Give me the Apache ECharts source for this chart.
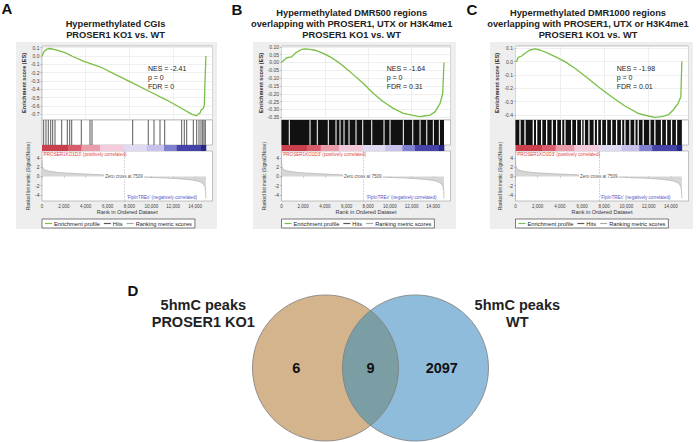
<!DOCTYPE html>
<html><head><meta charset="utf-8">
<script src="https://cdn.jsdelivr.net/npm/echarts@6/dist/echarts.min.js"></script>
<style>html,body{margin:0;padding:0;background:#fff}#c{width:698px;height:442px}</style>
</head><body><div id="c"></div>
<script>
// ===================== DATA =====================
const panelLetters = ['A', 'B', 'C'];
const panelTitles = [
  'Hypermethylated CGIs\nPROSER1 KO1 vs. WT',
  'Hypermethylated DMR500 regions\noverlapping with PROSER1, UTX or H3K4me1\nPROSER1 KO1 vs. WT',
  'Hypermethylated DMR1000 regions\noverlapping with PROSER1, UTX or H3K4me1\nPROSER1 KO1 vs. WT'
];
const nesValues = [-2.41, -1.64, -1.98];
const pValues = [0, 0, 0];
const fdrValues = [0, 0.31, 0.01];

const totalRanks = 15000;
const zeroCross = 7509;
const rankTickStep = 2000;

// enrichment score curves [rank, ES]
const esA = [[0,0],[180,0.05],[430,0.082],[730,0.09],[1350,0.07],[2100,0.04],[2720,0.0],[3780,-0.062],[5300,-0.13],[6830,-0.23],[8350,-0.33],[9880,-0.43],[11410,-0.53],[12630,-0.62],[13700,-0.70],[14150,-0.72],[14360,-0.69],[14450,-0.69],[14550,-0.65],[14760,-0.63],[14850,-0.59],[14900,-0.35],[15000,0]];
const esB = [[0,0],[320,0.02],[480,0.03],[940,0.036],[1250,0.058],[1560,0.072],[1860,0.083],[2170,0.087],[2630,0.083],[3090,0.078],[3860,0.058],[4480,0.036],[5400,-0.006],[6330,-0.06],[7560,-0.134],[8480,-0.198],[9400,-0.251],[10320,-0.293],[11250,-0.325],[12020,-0.336],[12790,-0.345],[13250,-0.34],[13710,-0.336],[14170,-0.315],[14640,-0.261],[14880,-0.198],[15000,0]];
const esC = [[0,0],[100,0.002],[255,0.032],[556,0.042],[856,0.062],[1306,0.087],[1757,0.095],[2207,0.087],[2958,0.062],[3709,0.032],[4459,0.0],[5360,-0.05],[6261,-0.108],[7462,-0.188],[8664,-0.263],[9865,-0.333],[11066,-0.388],[11967,-0.408],[12568,-0.418],[13168,-0.413],[13769,-0.4],[14219,-0.363],[14670,-0.313],[14910,-0.263],[15000,0]];

// ES axis tick labels
const esTicksA = [-0.7,-0.6,-0.5,-0.4,-0.3,-0.2,-0.1,0,0.1];
const esTicksB = [-0.35,-0.30,-0.25,-0.20,-0.15,-0.10,-0.05,0,0.05,0.10];
const esTicksC = [-0.4,-0.3,-0.2,-0.1,0,0.1];
const esRangeA = [-0.77, 0.12];
const esRangeB = [-0.367, 0.105];
const esRangeC = [-0.438, 0.117];

// hits: A single positions; B and C dense, given as gaps (ranks with no hit)
const hitsA = [155,366,576,796,979,1190,1802,2315,2534,2717,3596,4392,4575,8298,9725,10247,10796,11226,12781,13019,13239,13843,14154,14364,14547,14703,14822,14941];
const hitGapsB = [720,2632,3306,4321,5032,5402,5771,6233,6879,7498,8329,9464,10018,11247,12115,12789,13408,14017,14571];
const hitGapsC = [405,856,1607,1907,2358,2808,3318,3709,4159,4459,5060,5511,5961,6201,6622,7102,7402,7763,8213,8664,9114,9565,9865,10315,10766,11066,11517,12117,12568,13168,13619,14069,14520];

// ranked list colour bar: segment edges (rank) and level index
const colorBarEdges = [0,2400,3620,5310,7500,9580,11160,12320,14500,15000];
const colorBarLevels = [0,1,2,3,4,5,6,7,8];

// ranked list metric (Signal2Noise)
const rankedMetric = [[0,3.4],[30,2.3],[100,1.7],[300,1.35],[700,1.1],[1500,0.85],[2500,0.68],[3500,0.56],[4500,0.45],[5500,0.33],[6500,0.18],[7509,0],[8500,-0.1],[9500,-0.18],[10500,-0.27],[11500,-0.37],[12500,-0.5],[13300,-0.65],[13900,-0.85],[14300,-1.05],[14600,-1.35],[14800,-1.75],[14920,-2.3],[14975,-3.2],[15000,-4.7]];
const metricTicks = [-4,-2,0,2,4];
const metricRange = [-5.28, 5.45];

// Venn
const vennSetNames = ['5hmC peaks\nPROSER1 KO1', '5hmC peaks\nWT'];
const vennCounts = [6, 9, 2097]; // only KO1, shared, only WT

// ===================== STYLE / LAYOUT =====================
const FONT = '"Liberation Sans", Arial, Helvetica, sans-serif';
const esColor = '#79bf45';
const colorBarPalette = ['#c9404c','#d95c6c','#eb9cab','#f4cadc','#e0dbf2','#c7c1ec','#8080d0','#4444a8','#262684'];
const layout = [
  {L:42, W:170.5, bg:[16,42,201,187], esGap:14, rkGap:10, titleX:115.5, letterX:1.5, letterY:0.5, nesX:148, hitColor:'#5a5a5a'},
  {L:281.5, W:169, bg:[253,42,203,187], esGap:17, rkGap:15, titleX:351.7, letterX:231.5, letterY:1.5, nesX:386.7, hitColor:'#111'},
  {L:515.5, W:173, bg:[490,42,203,187], esGap:13, rkGap:13, titleX:588, letterX:466.5, letterY:1.8, nesX:616.7, hitColor:'#111'}
];
const ES_TOP = 46, ES_H = 74, HIT_TOP = 120, HIT_H = 25, CB_TOP = 145, CB_H = 6, RK_TOP = 151, RK_H = 50;
const X_MAX = 15600;

const esData = [esA, esB, esC];
const esTicks = [esTicksA, esTicksB, esTicksC];
const esRanges = [esRangeA, esRangeB, esRangeC];
const esDec = [1, 2, 1];

function blocksFromGaps(gaps, w) {
  const out = []; let s = 0;
  gaps.forEach(g => { out.push([s, g - w / 2]); s = g + w / 2; });
  out.push([s, totalRanks]);
  return out;
}
const hitData = [hitsA.map(r => [r, r]), blocksFromGaps(hitGapsB, 95), blocksFromGaps(hitGapsC, 115)];
const colorBarData = colorBarLevels.map((lv, i) => [colorBarEdges[i], colorBarEdges[i + 1], lv]);

function renderHits(params, api) {
  const a = api.coord([api.value(0), 1]);
  const b = api.coord([api.value(1), 0]);
  let x = a[0], w = b[0] - a[0];
  if (w < 1) { x = (a[0] + b[0]) / 2 - 0.5; w = 1; }
  return {type: 'rect', shape: {x: x, y: a[1], width: w, height: b[1] - a[1]}, style: {fill: api.visual('color')}};
}
function renderColorBar(params, api) {
  const a = api.coord([api.value(0), 1]);
  const b = api.coord([api.value(1), 0]);
  return {type: 'rect', shape: {x: a[0], y: a[1], width: b[0] - a[0] + 0.3, height: b[1] - a[1]}, style: {fill: colorBarPalette[api.value(2)]}};
}

const grid = [], xAxis = [], yAxis = [], series = [], legend = [], graphic = [];
const fmtRank = v => v === 0 ? '0' : v.toLocaleString('en-US');

layout.forEach((p, i) => {
  const g0 = grid.length;
  const gb = {show: true, backgroundColor: '#fff', borderColor: '#9a9a9a', borderWidth: 0.6};
  grid.push(Object.assign({left: p.L, top: ES_TOP, width: p.W, height: ES_H}, gb));
  grid.push(Object.assign({left: p.L, top: HIT_TOP, width: p.W, height: HIT_H}, gb));
  grid.push({left: p.L, top: CB_TOP, width: p.W, height: CB_H, show: false});
  grid.push(Object.assign({left: p.L, top: RK_TOP, width: p.W, height: RK_H}, gb));

  const hiddenX = idx => ({type: 'value', gridIndex: idx, min: 0, max: X_MAX, show: false});
  xAxis.push({type: 'value', gridIndex: g0, min: 0, max: X_MAX, interval: 4000,
    axisLine: {show: false}, axisTick: {show: false}, axisLabel: {show: false},
    splitLine: {show: true, lineStyle: {color: '#e4e4e4', width: 0.6}}});
  xAxis.push(hiddenX(g0 + 1));
  xAxis.push(hiddenX(g0 + 2));
  xAxis.push({type: 'value', gridIndex: g0 + 3, min: 0, max: X_MAX, interval: rankTickStep,
    name: 'Rank in Ordered Dataset', nameLocation: 'middle', nameGap: 6,
    nameTextStyle: {fontSize: 5.5, color: '#333', fontFamily: FONT},
    axisLine: {show: false}, axisTick: {show: true, length: 1.5, lineStyle: {color: '#888', width: 0.5}},
    axisLabel: {fontSize: 4.5, color: '#444', margin: 2.5, fontFamily: FONT, showMaxLabel: false, formatter: fmtRank},
    splitLine: {show: false}});

  const dec = esDec[i];
  yAxis.push({type: 'value', gridIndex: g0, min: esRanges[i][0], max: esRanges[i][1],
    name: 'Enrichment score (ES)', nameLocation: 'middle', nameGap: p.esGap,
    nameTextStyle: {fontSize: 5.6, fontWeight: 'bold', color: '#333', fontFamily: FONT},
    axisLine: {show: false},
    axisTick: {show: true, length: 1.5, customValues: esTicks[i], lineStyle: {color: '#888', width: 0.5}},
    axisLabel: {fontSize: 5, color: '#444', margin: 2.5, fontFamily: FONT, customValues: esTicks[i], formatter: v => v.toFixed(dec)},
    splitLine: {show: true, lineStyle: {color: '#e4e4e4', width: 0.6}}});
  yAxis.push({type: 'value', gridIndex: g0 + 1, min: 0, max: 1, show: false});
  yAxis.push({type: 'value', gridIndex: g0 + 2, min: 0, max: 1, show: false});
  yAxis.push({type: 'value', gridIndex: g0 + 3, min: metricRange[0], max: metricRange[1],
    name: 'Ranked list metric (Signal2Noise)', nameLocation: 'middle', nameGap: p.rkGap,
    nameTextStyle: {fontSize: 4.6, color: '#333', fontFamily: FONT},
    axisLine: {show: false},
    axisTick: {show: true, length: 1.5, customValues: metricTicks, lineStyle: {color: '#888', width: 0.5}},
    axisLabel: {fontSize: 5, color: '#444', margin: 2.5, fontFamily: FONT, customValues: metricTicks},
    splitLine: {show: false}});

  series.push({name: 'Enrichment profile', type: 'line', xAxisIndex: g0, yAxisIndex: g0, data: esData[i],
    showSymbol: false, symbol: 'none', itemStyle: {color: esColor}, lineStyle: {color: esColor, width: 1.3}, z: 5});
  series.push({name: 'Hits', type: 'custom', xAxisIndex: g0 + 1, yAxisIndex: g0 + 1, data: hitData[i],
    encode: {x: [0, 1]}, itemStyle: {color: p.hitColor}, renderItem: renderHits});
  series.push({name: 'colorbar' + i, type: 'custom', xAxisIndex: g0 + 2, yAxisIndex: g0 + 2, data: colorBarData,
    encode: {x: [0, 1]}, renderItem: renderColorBar});
  series.push({name: 'Ranking metric scores', type: 'line', xAxisIndex: g0 + 3, yAxisIndex: g0 + 3, data: rankedMetric,
    showSymbol: false, symbol: 'none', itemStyle: {color: '#a8a8a8'}, lineStyle: {color: '#a8a8a8', width: 0.6},
    areaStyle: {color: '#c4c4c4'},
    markLine: {silent: true, symbol: 'none', label: {show: false}, lineStyle: {color: '#aaa', type: 'dashed', width: 0.5}, data: [{xAxis: zeroCross}]},
    markPoint: {silent: true, symbol: 'rect', symbolSize: 0.1, itemStyle: {color: 'rgba(0,0,0,0)'},
      label: {show: true, position: 'inside', formatter: 'Zero cross at ' + zeroCross, fontSize: 4.5, color: '#555', fontFamily: FONT, backgroundColor: '#fff', padding: [0, 1]},
      data: [{coord: [zeroCross, 0]}]}});

  legend.push({left: p.L, top: 219, orient: 'horizontal', selectedMode: false,
    data: ['Enrichment profile', 'Hits', 'Ranking metric scores'],
    icon: 'rect', itemWidth: 7, itemHeight: 1.2, itemGap: 4,
    textStyle: {fontSize: 5.7, color: '#222', fontFamily: FONT, padding: [0, 0, 0, -3]},
    padding: [1.5, 3], borderColor: '#444', borderWidth: 0.7, backgroundColor: '#fff'});

  // gray panel background
  graphic.push({type: 'rect', z: -10, shape: {x: p.bg[0], y: p.bg[1], width: p.bg[2], height: p.bg[3]}, style: {fill: '#eeeeee'}});
  // letter
  graphic.push({type: 'text', z: 100, x: p.letterX, y: p.letterY, style: {text: panelLetters[i], fill: '#111',
    font: 'bold 15px ' + FONT, textAlign: 'left', textVerticalAlign: 'top', align: 'left', verticalAlign: 'top'}});
  // title
  graphic.push({type: 'text', z: 100, x: p.titleX, y: 40.2, style: {text: panelTitles[i], fill: '#222',
    font: 'bold 9.3px ' + FONT, lineHeight: 10.7, textAlign: 'center', textVerticalAlign: 'bottom', align: 'center', verticalAlign: 'bottom'}});
  // stats
  const stats = ['NES = ' + nesValues[i].toFixed(2), 'p = ' + pValues[i], 'FDR = ' + fdrValues[i]].join('\n');
  graphic.push({type: 'text', z: 100, x: p.nesX, y: 64, style: {text: stats, fill: '#222',
    font: '7px ' + FONT, lineHeight: 8.8, textAlign: 'left', textVerticalAlign: 'top', align: 'left', verticalAlign: 'top'}});
  // correlation labels
  graphic.push({type: 'text', z: 100, x: p.L + 0.8, y: 154, style: {text: "'PROSER1KO1D3' (positively correlated)", fill: '#e04646',
    font: '4.6px ' + FONT, textAlign: 'left', textVerticalAlign: 'middle', align: 'left', verticalAlign: 'middle'}});
  graphic.push({type: 'text', z: 100, x: p.L + 155, y: 197.7, style: {text: "'FlpInTREx' (negatively correlated)", fill: '#5656c8',
    font: '4.6px ' + FONT, textAlign: 'right', textVerticalAlign: 'middle', align: 'right', verticalAlign: 'middle'}});
});

// ---- Venn (panel D) ----
const vennGridIdx = grid.length;
const vennHalfDist = 0.616; // half distance between circle centres, in radius units
grid.push({left: 252.5, top: 295, width: 236, height: 146, show: false});
xAxis.push({type: 'value', gridIndex: vennGridIdx, min: -1 - vennHalfDist, max: 1 + vennHalfDist, show: false});
yAxis.push({type: 'value', gridIndex: vennGridIdx, min: -1, max: 1, show: false});
series.push({name: 'venn', type: 'custom', xAxisIndex: vennGridIdx, yAxisIndex: vennGridIdx,
  data: [[vennCounts[0], vennCounts[1], vennCounts[2]]],
  renderItem: function (params, api) {
    const d = vennHalfDist;
    const cL = api.coord([-d, 0]), cR = api.coord([d, 0]);
    const r = api.size([1, 1])[0];
    const alpha = Math.acos(d);
    const pts = [];
    const n = 60;
    for (let k = 0; k <= n; k++) { const t = -alpha + 2 * alpha * k / n; pts.push(api.coord([-d + Math.cos(t), Math.sin(t)])); }
    for (let k = 0; k <= n; k++) { const t = Math.PI - alpha + 2 * alpha * k / n; pts.push(api.coord([d + Math.cos(t), Math.sin(t)])); }
    const numFont = 'bold 14.5px ' + FONT;
    const txt = (v, x) => { const c = api.coord([x, 0]); return {type: 'text', x: c[0], y: c[1], style: {text: String(v), fill: '#111', font: numFont, textAlign: 'center', textVerticalAlign: 'middle', align: 'center', verticalAlign: 'middle'}}; };
    return {type: 'group', children: [
      {type: 'circle', shape: {cx: cL[0], cy: cL[1], r: r}, style: {fill: '#d4b48d'}},
      {type: 'circle', shape: {cx: cR[0], cy: cR[1], r: r}, style: {fill: '#90bcdc'}},
      {type: 'polygon', shape: {points: pts}, style: {fill: '#7b9ea4'}},
      {type: 'circle', shape: {cx: cL[0], cy: cL[1], r: r}, style: {fill: 'none', stroke: '#7d7d7d', lineWidth: 0.8}},
      {type: 'circle', shape: {cx: cR[0], cy: cR[1], r: r}, style: {fill: 'none', stroke: '#7d7d7d', lineWidth: 0.8}},
      txt(api.value(0), -d - 0.4),
      txt(api.value(1), 0),
      txt(api.value(2), d + 0.36)
    ]};
  }});
graphic.push({type: 'text', z: 100, x: 127.5, y: 283, style: {text: 'D', fill: '#111', font: 'bold 15px ' + FONT, textAlign: 'left', textVerticalAlign: 'top', align: 'left', verticalAlign: 'top'}});
graphic.push({type: 'text', z: 100, x: 203.3, y: 313.6, style: {text: vennSetNames[0], fill: '#222', font: 'bold 14.5px ' + FONT, lineHeight: 17.3, textAlign: 'center', textVerticalAlign: 'middle', align: 'center', verticalAlign: 'middle'}});
graphic.push({type: 'text', z: 100, x: 517.3, y: 313.2, style: {text: vennSetNames[1], fill: '#222', font: 'bold 14.5px ' + FONT, lineHeight: 17.3, textAlign: 'center', textVerticalAlign: 'middle', align: 'center', verticalAlign: 'middle'}});

const chart = echarts.init(document.getElementById('c'), null, {renderer: 'svg'});
chart.setOption({animation: false, backgroundColor: '#fff', grid, xAxis, yAxis, series, legend, graphic});
</script></body></html>
